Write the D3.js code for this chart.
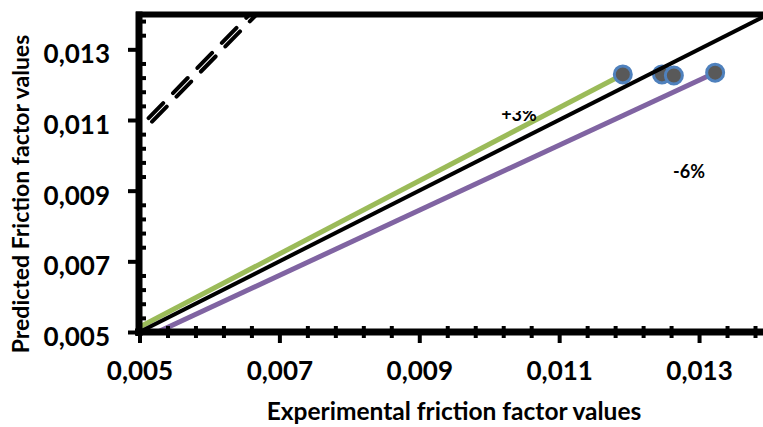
<!DOCTYPE html>
<html>
<head>
<meta charset="utf-8">
<script src="https://cdn.jsdelivr.net/npm/d3@7"></script>
<style>
  body { margin: 0; background: #fff; }
  svg text { font-family: Lato, "Open Sans", sans-serif; font-weight: bold; fill: #000; }
</style>
</head>
<body>
<script>
// measured points (experimental vs predicted)
const expValues  = [0.01191, 0.01247, 0.01264, 0.01323];
const predValues = [0.01229, 0.01229, 0.01226, 0.01234];

// +3% and -6% deviation lines, ideal line, dashed lines
const plusX  = [0.005, 0.01191];
const plusY  = [0.00514, 0.01229];
const minusX = [0.00526, 0.01323];
const minusY = [0.005, 0.01234];
const idealX = [0.005, 0.014];
const idealY = [0.005, 0.014];
const dashAX = [0.005, 0.00658];
const dashAY = [0.01079, 0.014];
const dashBX = [0.00505, 0.00668];
const dashBY = [0.01069, 0.014];

const majorTicks = [0.005, 0.007, 0.009, 0.011, 0.013];
const xTitle = "Experimental friction factor values";
const yTitle = "Predicted Friction factor values";

const W = 763, H = 427;
const svg = d3.select("body").append("svg").attr("width", W).attr("height", H);

const x = d3.scaleLinear().domain([0.005, 0.014]).range([139.5, 769]);
const y = d3.scaleLinear().domain([0.005, 0.014]).range([332, 14]);

const fmt = d => d3.format(".3f")(d).replace(".", ",");
const minor = d3.range(0.005, 0.0141, 0.0004)
  .filter(v => !majorTicks.some(m => Math.abs(m - v) < 1e-7));

svg.append("clipPath").attr("id", "plot")
  .append("rect").attr("x", 139).attr("y", 14).attr("width", 640).attr("height", 318);

const plot = svg.append("g").attr("clip-path", "url(#plot)");

const line = (xs, ys) => d3.line()(xs.map((v, i) => [x(v), y(ys[i])]));

// dashed lines
[[dashAX, dashAY], [dashBX, dashBY]].forEach(([xs, ys]) => {
  plot.append("path").attr("d", line(xs, ys))
    .attr("fill", "none").attr("stroke", "#000").attr("stroke-width", 4)
    .attr("stroke-linecap", "round")
    .attr("stroke-dasharray", "21 14").attr("stroke-dashoffset", 22);
});

plot.append("path").attr("d", line(plusX, plusY))
  .attr("fill", "none").attr("stroke", "#9BBB59").attr("stroke-width", 5);
plot.append("path").attr("d", line(minusX, minusY))
  .attr("fill", "none").attr("stroke", "#8064A2").attr("stroke-width", 5);

plot.selectAll("circle").data(expValues).enter().append("circle")
  .attr("cx", d => x(d))
  .attr("cy", (d, i) => y(predValues[i]))
  .attr("r", 8.5)
  .attr("fill", "#595959")
  .attr("stroke", "#4F81BD")
  .attr("stroke-width", 3);

plot.append("path").attr("d", line(idealX, idealY))
  .attr("fill", "none").attr("stroke", "#000").attr("stroke-width", 4);

// labels
svg.append("clipPath").attr("id", "lbl")
  .append("rect").attr("x", 480).attr("y", 111).attr("width", 80).attr("height", 30);
svg.append("text").attr("clip-path", "url(#lbl)")
  .attr("x", 519).attr("y", 121).attr("text-anchor", "middle")
  .style("font-size", "18px").text("+3%");
svg.append("text")
  .attr("x", 689).attr("y", 178).attr("text-anchor", "middle")
  .style("font-size", "18px").text("-6%");

// top border
svg.append("line").attr("x1", 136).attr("x2", W).attr("y1", 14.5).attr("y2", 14.5)
  .attr("stroke", "#000").attr("stroke-width", 6);

// x axis
svg.append("g").attr("transform", "translate(0,332)")
  .call(d3.axisBottom(x).tickValues(majorTicks).tickSize(11).tickPadding(19).tickFormat(fmt));
svg.append("g").attr("transform", "translate(0,326)")
  .call(d3.axisBottom(x).tickValues(minor).tickSize(12).tickFormat(""));
svg.append("line").attr("x1", 135).attr("x2", W).attr("y1", 332).attr("y2", 332)
  .attr("stroke", "#000").attr("stroke-width", 7);

// y axis
const gy = svg.append("g").attr("transform", "translate(140,0)")
  .call(d3.axisLeft(y).tickValues(majorTicks).tickSize(12).tickPadding(18).tickFormat(fmt));
svg.append("g").attr("transform", "translate(139,0)")
  .call(d3.axisRight(y).tickValues(minor).tickSize(7).tickFormat(""));
svg.append("line").attr("x1", 139).attr("x2", 139).attr("y1", 11.5).attr("y2", 336)
  .attr("stroke", "#000").attr("stroke-width", 7);

svg.selectAll(".domain").remove();
svg.selectAll(".tick line").attr("stroke", "#000").attr("stroke-width", 4);
svg.selectAll(".tick text").style("font-size", "26px");
gy.selectAll(".tick text").attr("dy", "0.52em");

svg.append("text").attr("x", 454).attr("y", 420).attr("text-anchor", "middle")
  .style("font-size", "24.5px").text(xTitle);
svg.append("text").attr("transform", "translate(29,194) rotate(-90)")
  .attr("text-anchor", "middle").style("font-size", "23px").text(yTitle);
</script>
</body>
</html>
